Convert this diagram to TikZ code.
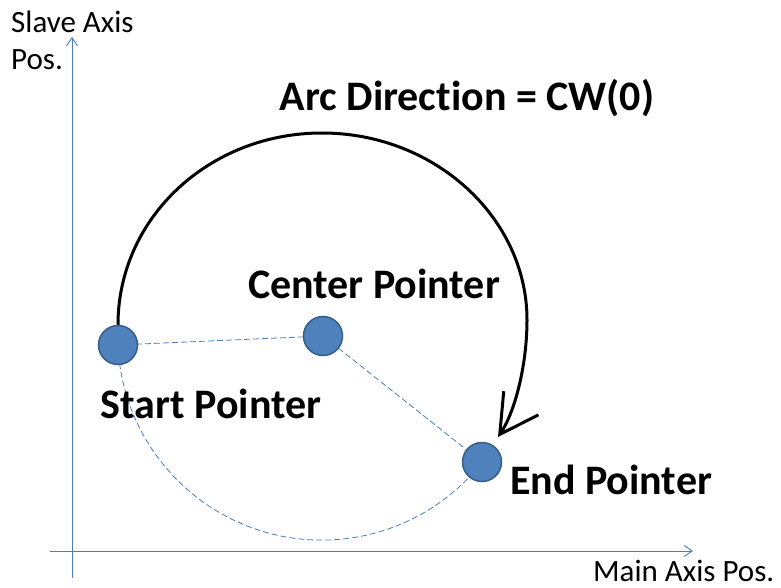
\documentclass[tikz,border=0pt]{standalone}
\usepackage{fontspec}
\setmainfont{Carlito}[Ligatures=NoCommon]
\usetikzlibrary{arrows.meta,positioning,backgrounds}
\definecolor{ptblue}{HTML}{4F81BD}
\definecolor{ptedge}{HTML}{385D8A}
\definecolor{axisblue}{HTML}{4A7EBB}

\begin{document}
\begin{tikzpicture}[x=1pt,y=-1pt,
  pnt/.style={circle,fill=ptblue,draw=ptedge,line width=1.5pt,minimum size=39pt,inner sep=0pt},
  axis/.style={axisblue,line width=0.9pt,-{Straight Barb[length=8pt,width=11pt]}},
  guide/.style={axisblue,line width=0.8pt,dash pattern=on 6pt off 3pt},
  lbl/.style={font=\fontsize{42}{50}\selectfont\bfseries,inner sep=0pt,anchor=base},
  axlbl/.style={font=\fontsize{31}{37}\selectfont,align=left,inner sep=0pt}]
  \useasboundingbox (0,0) rectangle (781,588);
  % Axes
  \coordinate (ybot) at (72,578);
  \coordinate (ytop) at (72,37);
  \coordinate (xleft) at (50,551);
  \coordinate (xright) at (693,551);
  \draw[axis] (ybot) -- (ytop);
  \draw[axis] (xleft) -- (xright);
  \node[axlbl,anchor=north west] (ylab) at (11,11) {Slave Axis\\Pos.};
  \node[axlbl,anchor=base west,text depth=0pt] (xlab) at (593,581) {Main Axis Pos.};
  % Points
  \node[pnt] (s) at (118,345) {};
  \node[pnt] (c) at (323,336) {};
  \node[pnt] (e) at (482,462) {};
  \begin{scope}[on background layer]
    \draw[guide] (s.center) -- (c.center) -- (e.center);
    \draw[guide] (s.center) arc[start angle=177.5,end angle=38.4,radius=204];
  \end{scope}
  % Arc direction
  \coordinate (tip) at (498,437);
  \draw[line width=3pt,-{Straight Barb[length=38pt,width=42pt]}] (s.north)
    .. controls (118,218) and (209,133) .. (322,133)
    .. controls (435,133) and (527,218) .. (527,320)
    .. controls (527,365) and (515,412) .. (tip);
  % Labels
  \node[lbl] (dir) at (467,111) {Arc Direction = CW(0)};
  \node[lbl] (cl) at (374,298) {Center Pointer};
  \node[lbl] (sl) at (211,418) {Start Pointer};
  \node[lbl] (el) at (611,494) {End Pointer};
\end{tikzpicture}
\end{document}
